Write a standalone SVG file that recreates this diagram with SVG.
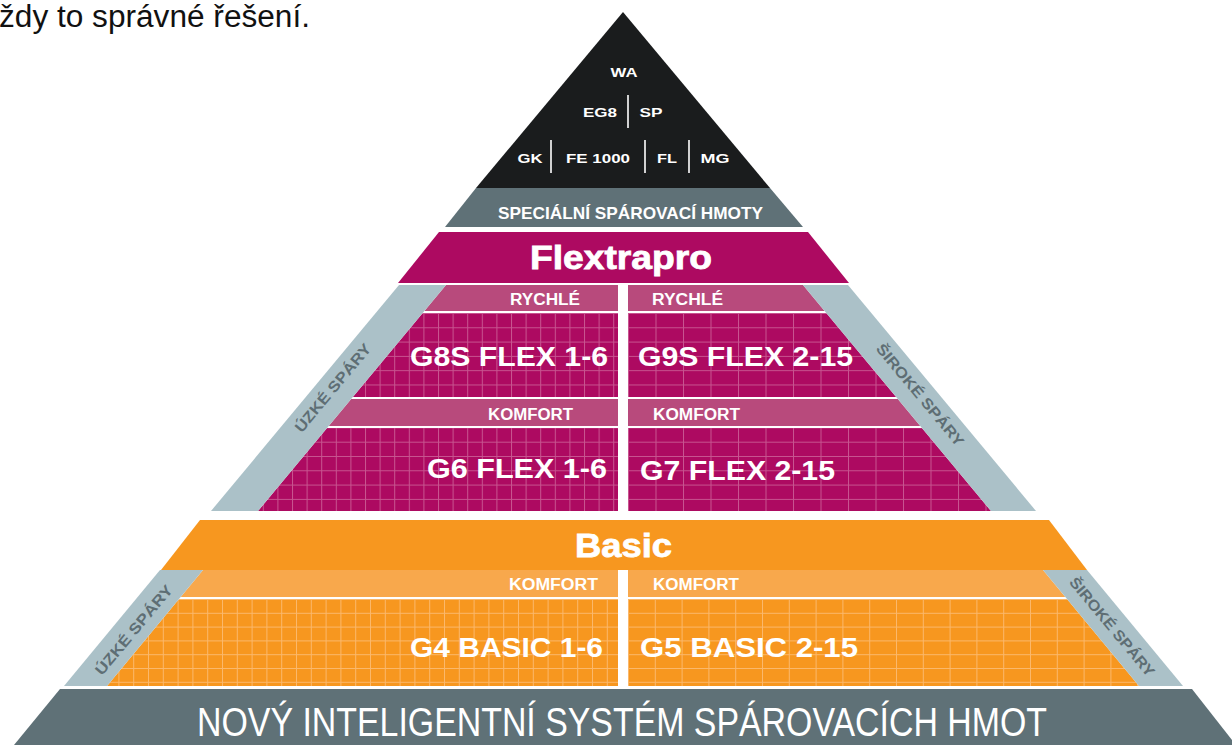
<svg xmlns="http://www.w3.org/2000/svg" width="1232" height="745" viewBox="0 0 1232 745">
<style>
.w{fill:#fff;font-family:"Liberation Sans",Arial,sans-serif;font-weight:bold}
.side{fill:#5e6e74;font-family:"Liberation Sans",Arial,sans-serif;font-weight:bold;font-size:15px}
.sm{font-size:16px}
.big{font-size:28px}
.tip{font-size:13px}
.foot{fill:#fff;font-family:"Liberation Sans",Arial,sans-serif;font-weight:normal;font-size:40px}
</style>
<defs>
<pattern id="gmF" patternUnits="userSpaceOnUse" x="0" y="313" width="14.6" height="14.3">
<rect width="14.6" height="14.3" fill="#ad0a61"/>
<path d="M0 0.5H14.6M0.5 0V14.3" stroke="#c85590" stroke-width="1"/>
</pattern>
<pattern id="gmC" patternUnits="userSpaceOnUse" x="628" y="313" width="27.5" height="14.3">
<rect width="27.5" height="14.3" fill="#ad0a61"/>
<path d="M0 0.5H27.5M0.5 0V14.3" stroke="#c85590" stroke-width="1"/>
</pattern>
<pattern id="goF" patternUnits="userSpaceOnUse" x="0" y="599" width="14.8" height="13.8">
<rect width="14.8" height="13.8" fill="#f7971f"/>
<path d="M0 0.5H14.8M0.5 0V13.8" stroke="#fbb86b" stroke-width="1"/>
</pattern>
<pattern id="goC" patternUnits="userSpaceOnUse" x="628" y="599" width="26.8" height="13.8">
<rect width="26.8" height="13.8" fill="#f7971f"/>
<path d="M0 0.5H26.8M0.5 0V13.8" stroke="#fbb86b" stroke-width="1"/>
</pattern>
<clipPath id="flexClip"><polygon points="446,285 803,285 991,511 258,511"/></clipPath>
<clipPath id="basicClip"><polygon points="203,570 1043,570 1139,686 107,686"/></clipPath>
</defs>
<rect width="1232" height="745" fill="#fff"/>

<g id="caption">
<text x="-1" y="27" font-family="Liberation Sans,Arial,sans-serif" font-size="31" fill="#111" textLength="311" lengthAdjust="spacingAndGlyphs">ždy to správné řešení.</text>
</g>

<g id="top-tip">
<polygon points="623,12 476,188 770,188" fill="#1a1c1d"/>
<g stroke="#fff" stroke-width="1.6">
<line x1="628" y1="95" x2="628" y2="128"/>
<line x1="551" y1="140" x2="551" y2="173"/>
<line x1="645" y1="140" x2="645" y2="173"/>
<line x1="689" y1="140" x2="689" y2="173"/>
</g>
<text class="w tip" x="624" y="77" text-anchor="middle" textLength="27" lengthAdjust="spacingAndGlyphs">WA</text>
<text class="w tip" x="600" y="117" text-anchor="middle" textLength="34" lengthAdjust="spacingAndGlyphs">EG8</text>
<text class="w tip" x="651" y="117" text-anchor="middle" textLength="23" lengthAdjust="spacingAndGlyphs">SP</text>
<text class="w tip" x="530" y="163" text-anchor="middle" textLength="25" lengthAdjust="spacingAndGlyphs">GK</text>
<text class="w tip" x="598" y="163" text-anchor="middle" textLength="64" lengthAdjust="spacingAndGlyphs">FE 1000</text>
<text class="w tip" x="667" y="163" text-anchor="middle" textLength="20" lengthAdjust="spacingAndGlyphs">FL</text>
<text class="w tip" x="715" y="163" text-anchor="middle" textLength="29" lengthAdjust="spacingAndGlyphs">MG</text>
</g>

<g id="special-band">
<polygon points="476,188 770,188 803,227 445,227" fill="#5f7177"/>
<text class="w" x="498" y="219" font-size="17" textLength="265" lengthAdjust="spacingAndGlyphs">SPECIÁLNÍ SPÁROVACÍ HMOTY</text>
</g>

<g id="flextrapro-band">
<polygon points="439,232 808,232 849,283 398,283" fill="#ad0a61"/>
<text class="w" x="530" y="269" font-size="33" textLength="182" lengthAdjust="spacingAndGlyphs" stroke="#fff" stroke-width="0.8">Flextrapro</text>
</g>

<g id="flex-section">
<g clip-path="url(#flexClip)">
<rect x="200" y="285" width="418" height="26" fill="#b84a7c"/>
<rect x="628" y="285" width="400" height="26" fill="#b84a7c"/>
<rect x="200" y="313" width="418" height="84" fill="url(#gmF)"/>
<rect x="628" y="313" width="400" height="84" fill="url(#gmC)"/>
<rect x="200" y="399" width="418" height="27" fill="#b84a7c"/>
<rect x="628" y="399" width="400" height="27" fill="#b84a7c"/>
<rect x="200" y="428" width="418" height="83" fill="url(#gmF)"/>
<rect x="628" y="428" width="400" height="83" fill="url(#gmC)"/>
</g>
<polygon points="399,285 446,285 258,511 211,511" fill="#abc1c8"/>
<polygon points="803,285 848,285 1036,511 991,511" fill="#abc1c8"/>
<text class="w sm" x="510" y="305" textLength="70" lengthAdjust="spacingAndGlyphs">RYCHLÉ</text>
<text class="w sm" x="652" y="305" textLength="71" lengthAdjust="spacingAndGlyphs">RYCHLÉ</text>
<text class="w big" x="410" y="366" textLength="198" lengthAdjust="spacingAndGlyphs">G8S FLEX 1-6</text>
<text class="w big" x="638" y="366" textLength="215" lengthAdjust="spacingAndGlyphs">G9S FLEX 2-15</text>
<text class="w sm" x="488" y="420" textLength="85" lengthAdjust="spacingAndGlyphs">KOMFORT</text>
<text class="w sm" x="653" y="420" textLength="87" lengthAdjust="spacingAndGlyphs">KOMFORT</text>
<text class="w big" x="427" y="478" textLength="180" lengthAdjust="spacingAndGlyphs">G6 FLEX 1-6</text>
<text class="w big" x="640" y="480" textLength="195" lengthAdjust="spacingAndGlyphs">G7 FLEX 2-15</text>
<text class="side" transform="translate(333,388) rotate(-50.2)" x="0" y="5" text-anchor="middle" textLength="110" lengthAdjust="spacingAndGlyphs">ÚZKÉ SPÁRY</text>
<text class="side" transform="translate(920,395) rotate(50.2)" x="0" y="5" text-anchor="middle" textLength="128" lengthAdjust="spacingAndGlyphs">ŠIROKÉ SPÁRY</text>
</g>

<g id="basic-band">
<polygon points="200,520 1049,520 1087,570 161,570" fill="#f7971f"/>
<text class="w" x="575" y="557" font-size="34" textLength="97" lengthAdjust="spacingAndGlyphs" stroke="#fff" stroke-width="0.8">Basic</text>
</g>

<g id="basic-section">
<g clip-path="url(#basicClip)">
<rect x="100" y="570" width="518" height="27" fill="#f8a84c"/>
<rect x="628" y="570" width="520" height="27" fill="#f8a84c"/>
<rect x="100" y="599" width="518" height="87" fill="url(#goF)"/>
<rect x="628" y="599" width="520" height="87" fill="url(#goC)"/>
</g>
<polygon points="160,570 203,570 107,686 64,686" fill="#abc1c8"/>
<polygon points="1043,570 1087,570 1183,686 1139,686" fill="#abc1c8"/>
<text class="w sm" x="509" y="590" textLength="89" lengthAdjust="spacingAndGlyphs">KOMFORT</text>
<text class="w sm" x="653" y="590" textLength="86" lengthAdjust="spacingAndGlyphs">KOMFORT</text>
<text class="w big" x="410" y="657" textLength="193" lengthAdjust="spacingAndGlyphs">G4 BASIC 1-6</text>
<text class="w big" x="640" y="657" textLength="218" lengthAdjust="spacingAndGlyphs">G5 BASIC 2-15</text>
<text class="side" transform="translate(134,630) rotate(-50.2)" x="0" y="5" text-anchor="middle" textLength="112" lengthAdjust="spacingAndGlyphs">ÚZKÉ SPÁRY</text>
<text class="side" transform="translate(1112,627) rotate(50.2)" x="0" y="5" text-anchor="middle" textLength="124" lengthAdjust="spacingAndGlyphs">ŠIROKÉ SPÁRY</text>
</g>

<g id="bottom-band">
<polygon points="60,689 1192,689 1236,745 14,745" fill="#5f7177"/>
<text class="foot" x="197" y="736" textLength="850" lengthAdjust="spacingAndGlyphs">NOVÝ INTELIGENTNÍ SYSTÉM SPÁROVACÍCH HMOT</text>
</g>
</svg>
